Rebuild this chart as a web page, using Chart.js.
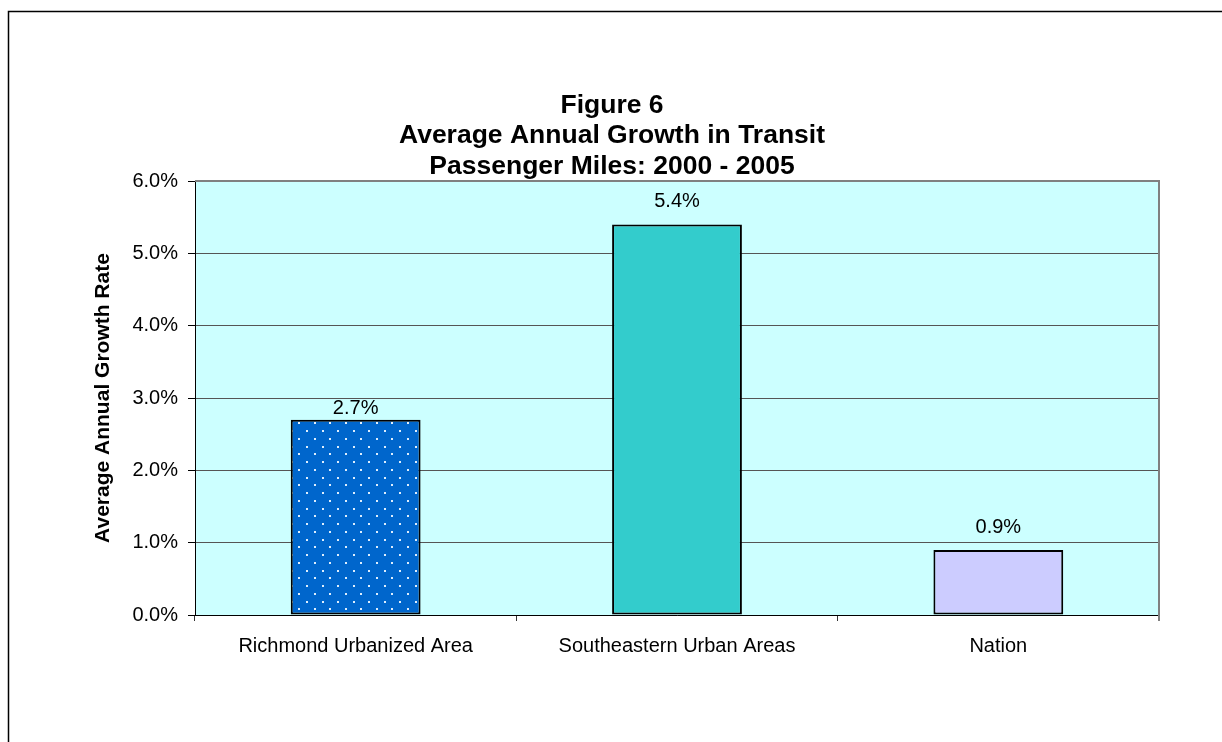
<!DOCTYPE html>
<html>
<head>
<meta charset="utf-8">
<script src="https://cdn.jsdelivr.net/npm/chart.js@4.4.0/dist/chart.umd.min.js"></script>
<style>
  html, body { margin: 0; padding: 0; background: #fff; }
  #wrap { width: 1222px; height: 742px; }
</style>
</head>
<body>
<div id="wrap"><canvas id="growthChart" width="1222" height="742"></canvas></div>
<script>
// chart data
const categories = ["Richmond Urbanized Area", "Southeastern Urban Areas", "Nation"];
const growthRates = [2.7, 5.4, 0.9];
const titleLines = ["Figure 6", "Average Annual Growth in Transit", "Passenger Miles: 2000 - 2005"];
const yAxisTitle = "Average Annual Growth Rate";
const yMin = 0;
const yMax = 6;
const yStep = 1;

const FONT = '"Liberation Sans", Arial, Helvetica, sans-serif';

// dotted fill for the first bar
function makeDotPattern() {
  const tile = document.createElement("canvas");
  tile.width = 31;
  tile.height = 31;
  const c = tile.getContext("2d");
  c.fillStyle = "#0066CC";
  c.fillRect(0, 0, 31, 31);
  c.fillStyle = "rgba(235,245,255,0.95)";
  const dots = [[4, 4], [19, 4], [12, 12], [27, 12], [4, 19], [19, 19], [12, 27], [27, 27]];
  dots.forEach(([x, y]) => c.fillRect(x, y, 2, 2));
  return c.createPattern(tile, "repeat");
}

const ctx = document.getElementById("growthChart").getContext("2d");
const barColors = [makeDotPattern(), "#33CCCC", "#CCCCFF"];

// frame, heading and plot background
const decorations = {
  id: "decorations",
  beforeDraw(chart) {
    const { ctx, chartArea } = chart;
    ctx.save();
    ctx.fillStyle = "#fff";
    ctx.fillRect(0, 0, chart.width, chart.height);
    ctx.fillStyle = "#CCFFFF";
    ctx.fillRect(chartArea.left, chartArea.top, chartArea.right - chartArea.left, chartArea.bottom - chartArea.top);

    ctx.strokeStyle = "#000";
    ctx.lineWidth = 1.5;
    ctx.strokeRect(8.5, 11.5, 1400, 1000);

    // heading, set slightly wide
    ctx.fillStyle = "#000";
    ctx.font = "bold 25px " + FONT;
    ctx.textAlign = "center";
    ctx.textBaseline = "middle";
    titleLines.forEach((line, i) => {
      ctx.save();
      ctx.translate(612, 106 + i * 30.5);
      ctx.scale(1.06, 1);
      ctx.fillText(line, 0, 0);
      ctx.restore();
    });
    ctx.restore();
  },
  beforeDatasetsDraw(chart) {
    const { ctx, chartArea } = chart;
    ctx.save();
    ctx.strokeStyle = "#808080";
    ctx.lineWidth = 2;
    ctx.beginPath();
    ctx.moveTo(chartArea.left, chartArea.top);
    ctx.lineTo(chartArea.right, chartArea.top);
    ctx.lineTo(chartArea.right, chartArea.bottom + 6);
    ctx.stroke();
    ctx.restore();
  }
};

// value labels above the bars
const valueLabels = {
  id: "valueLabels",
  afterDatasetsDraw(chart, args, opts) {
    const { ctx } = chart;
    const meta = chart.getDatasetMeta(0);
    ctx.save();
    ctx.fillStyle = "#000";
    ctx.font = "20px " + FONT;
    ctx.textAlign = "center";
    ctx.textBaseline = "middle";
    meta.data.forEach((bar, i) => {
      const v = chart.data.datasets[0].data[i];
      ctx.fillText(v.toFixed(1) + "%", bar.x, bar.y - opts.gaps[i]);
    });
    ctx.restore();
  }
};

new Chart(ctx, {
  type: "bar",
  data: {
    labels: categories,
    datasets: [{
      data: growthRates,
      backgroundColor: barColors,
      borderColor: "#000",
      borderWidth: 2,
      borderSkipped: false,
      categoryPercentage: 1,
      barPercentage: 0.404
    }]
  },
  options: {
    responsive: false,
    animation: false,
    devicePixelRatio: 1,
    layout: { padding: { top: 181, right: 63, bottom: 0, left: 0 } },
    plugins: {
      legend: { display: false },
      tooltip: { enabled: false },
      valueLabels: { gaps: [11, 23, 22] }
    },
    scales: {
      x: {
        grid: {
          display: true,
          drawOnChartArea: false,
          drawTicks: true,
          tickLength: 6,
          offset: true,
          tickColor: "#333"
        },
        border: { display: true, color: "#000", width: 1 },
        ticks: {
          color: "#000",
          padding: 13,
          maxRotation: 0,
          font: { family: FONT, size: 20 }
        },
        afterFit(scale) { scale.height = 127; }
      },
      y: {
        min: yMin,
        max: yMax,
        grid: {
          color: "#555",
          lineWidth: 1,
          tickLength: 7,
          tickColor: "#000"
        },
        border: { display: true, color: "#000", width: 1 },
        ticks: {
          stepSize: yStep,
          color: "#000",
          padding: 10,
          font: { family: FONT, size: 20 },
          callback: (v) => Number(v).toFixed(1) + "%"
        },
        title: {
          display: true,
          text: yAxisTitle,
          color: "#000",
          font: { family: FONT, size: 21, weight: "bold" },
          padding: { top: 91, bottom: 0 }
        },
        afterFit(scale) { scale.width = 195; }
      }
    }
  },
  plugins: [decorations, valueLabels]
});
</script>
</body>
</html>
